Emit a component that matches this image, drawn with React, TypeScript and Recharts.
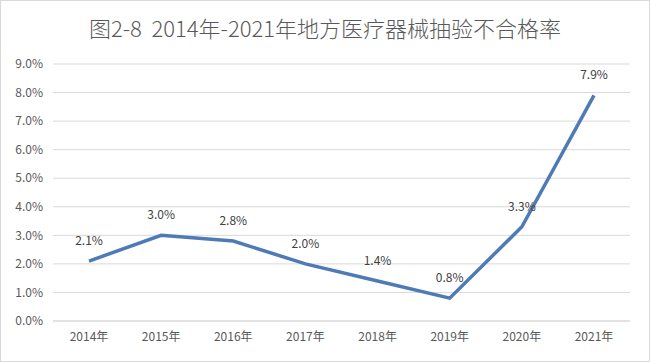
import { LineChart, Line, XAxis, YAxis, CartesianGrid, LabelList } from "recharts";

const years = ["2014年", "2015年", "2016年", "2017年", "2018年", "2019年", "2020年", "2021年"];
const failRate = [2.1, 3.0, 2.8, 2.0, 1.4, 0.8, 3.3, 7.9];
const yTicks = [0, 1, 2, 3, 4, 5, 6, 7, 8, 9];

const data = years.map((year, i) => ({ year, rate: failRate[i] }));

const FONT = '"Noto Sans CJK SC", "Noto Sans", sans-serif';

export default function App() {
  return (
    <div
      style={{
        position: "absolute",
        left: 0,
        top: 0,
        width: 650,
        height: 362,
        boxSizing: "border-box",
        border: "1px solid #d9d9d9",
        background: "#fff",
        fontFamily: FONT,
      }}
    >
      <div
        style={{
          position: "absolute",
          top: 10,
          left: 0,
          width: "100%",
          textAlign: "center",
          fontSize: 22,
          fontWeight: 300,
          lineHeight: "32px",
          color: "#595959",
        }}
      >
        图2-8&nbsp;&nbsp;2014年-2021年地方医疗器械抽验不合格率
      </div>
      <div style={{ position: "absolute", left: -1, top: -1 }}>
        <LineChart
          width={650}
          height={362}
          data={data}
          margin={{ top: 64, right: 20, bottom: 11, left: 0 }}
        >
          <CartesianGrid vertical={false} stroke="#d9d9d9" strokeWidth={1} />
          <XAxis
            dataKey="year"
            padding={{ left: 36, right: 36 }}
            axisLine={{ stroke: "#d9d9d9" }}
            tickLine={false}
            tickSize={0}
            tickMargin={11}
            height={30}
            tick={{ fontSize: 12, fill: "#595959", fontFamily: FONT }}
          />
          <YAxis
            domain={[0, 9]}
            ticks={yTicks}
            width={53}
            axisLine={false}
            tickLine={false}
            tickSize={0}
            tickMargin={10}
            tickFormatter={(v: number) => `${v.toFixed(1)}%`}
            tick={{ fontSize: 12, fill: "#595959", fontFamily: FONT }}
          />
          <Line
            type="linear"
            dataKey="rate"
            stroke="#4e7bb6"
            strokeWidth={3.5}
            dot={false}
            isAnimationActive={false}
          >
            <LabelList
              dataKey="rate"
              position="top"
              offset={16}
              formatter={(v: number) => `${v.toFixed(1)}%`}
              style={{ fontSize: 12, fill: "#404040", fontFamily: FONT }}
            />
          </Line>
        </LineChart>
      </div>
    </div>
  );
}
